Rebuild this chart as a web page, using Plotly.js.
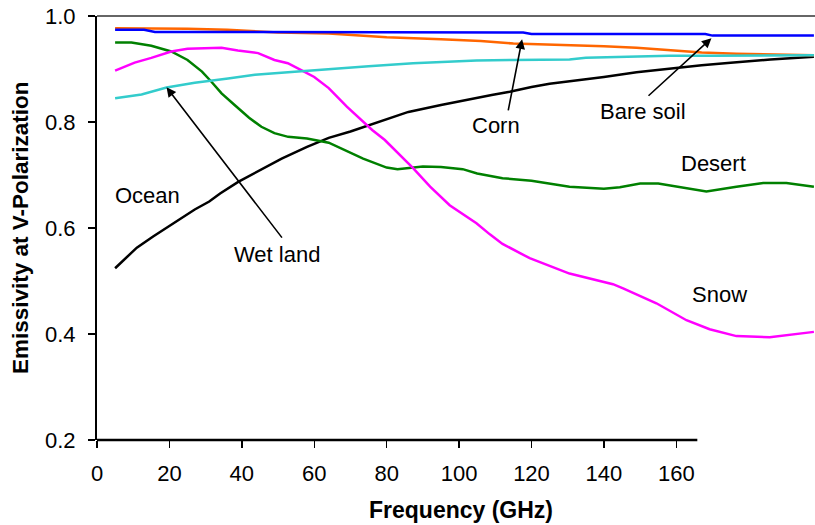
<!DOCTYPE html>
<html>
<head>
<meta charset="utf-8">
<script src="https://cdn.plot.ly/plotly-3.0.1.min.js"></script>
<style>html,body{margin:0;padding:0;background:#fff;}#chart{width:815px;height:525px;}</style>
</head>
<body>
<div id="chart"></div>
<script>
// ---- Data (frequency in GHz, emissivity) ----
const oceanFreq = [5, 11, 15.5, 20, 24, 27, 31, 34, 39, 45, 51, 58, 64, 70, 75, 81, 86, 95, 100, 105, 109, 114, 120, 125, 131, 140, 149, 154, 160, 167, 175, 186, 198];
const oceanEmis = [0.524, 0.563, 0.584, 0.604, 0.623, 0.635, 0.650, 0.665, 0.687, 0.709, 0.731, 0.753, 0.770, 0.782, 0.794, 0.807, 0.819, 0.832, 0.839, 0.845, 0.851, 0.857, 0.866, 0.872, 0.877, 0.885, 0.894, 0.898, 0.902, 0.907, 0.912, 0.918, 0.923];

const desertFreq = [5, 9.5, 15, 20.5, 25, 29, 31.6, 34.4, 38, 42, 45.4, 49, 52.8, 58, 64, 68, 73.5, 80, 83, 90, 95, 101, 105, 112, 120, 130.5, 140, 144.4, 150, 155, 161, 168.3, 176.6, 184, 190.4, 195, 198];
const desertEmis = [0.950, 0.950, 0.944, 0.933, 0.917, 0.895, 0.876, 0.854, 0.832, 0.808, 0.791, 0.779, 0.772, 0.769, 0.761, 0.748, 0.731, 0.714, 0.711, 0.716, 0.715, 0.711, 0.703, 0.694, 0.689, 0.678, 0.674, 0.677, 0.684, 0.684, 0.677, 0.669, 0.678, 0.685, 0.685, 0.681, 0.678];

const snowFreq = [5, 10.4, 15, 20.5, 25, 30.7, 34.4, 38.9, 44.5, 49, 52.7, 56.4, 60, 64, 69, 76, 79.5, 87.3, 92, 97.4, 99.3, 104.8, 108.5, 112, 119.5, 130.5, 142.5, 145.3, 154.5, 162.8, 169.2, 176.6, 185.8, 193.2, 198];
const snowEmis = [0.897, 0.912, 0.921, 0.933, 0.938, 0.940, 0.940, 0.935, 0.930, 0.917, 0.911, 0.898, 0.885, 0.864, 0.829, 0.785, 0.766, 0.713, 0.678, 0.643, 0.634, 0.609, 0.588, 0.570, 0.543, 0.514, 0.494, 0.486, 0.458, 0.426, 0.409, 0.396, 0.394, 0.400, 0.404];

const wetlandFreq = [5, 12.3, 19.2, 27, 36.2, 43.6, 54.6, 63.8, 75, 87.3, 95, 104.8, 115, 130.5, 135, 144.4, 158, 170, 185, 198];
const wetlandEmis = [0.845, 0.852, 0.865, 0.874, 0.882, 0.889, 0.895, 0.900, 0.905, 0.911, 0.913, 0.916, 0.917, 0.918, 0.921, 0.923, 0.925, 0.925, 0.926, 0.926];

const cornFreq = [5, 20, 25, 36, 50, 64, 80, 95, 106, 115, 121, 130.5, 140, 149, 158, 167, 176.6, 185.8, 192, 198];
const cornEmis = [0.977, 0.977, 0.976, 0.974, 0.969, 0.967, 0.960, 0.956, 0.953, 0.948, 0.947, 0.945, 0.943, 0.940, 0.936, 0.931, 0.929, 0.928, 0.927, 0.926];

const soilFreq = [5, 13, 16, 64, 117.7, 120, 168, 170, 198];
const soilEmis = [0.974, 0.974, 0.970, 0.969, 0.969, 0.966, 0.966, 0.963, 0.963];

const xTicks = [0, 20, 40, 60, 80, 100, 120, 140, 160];
const yTicks = [0.2, 0.4, 0.6, 0.8, 1.0];
const yTickText = ['0.2', '0.4', '0.6', '0.8', '1.0'];

const FONT = 'Liberation Sans, Arial, sans-serif';

function series(x, y, color) {
  return {x: x, y: y, type: 'scatter', mode: 'lines', showlegend: false,
          line: {color: color, width: 2.5, shape: 'linear'}, hoverinfo: 'skip'};
}

const traces = [
  series(oceanFreq, oceanEmis, '#000000'),
  series(desertFreq, desertEmis, '#008000'),
  series(snowFreq, snowEmis, '#FF00FF'),
  series(cornFreq, cornEmis, '#FF6600'),
  series(wetlandFreq, wetlandEmis, '#33CCCC'),
  series(soilFreq, soilEmis, '#0000FF')
];

function label(text, x, y) {
  return {text: text, x: x, y: y, xref: 'x', yref: 'y', showarrow: false,
          xanchor: 'center', yanchor: 'middle', font: {family: FONT, size: 22, color: '#000'}};
}
function arrow(hx, hy, tx, ty) {
  return {text: '', x: hx, y: hy, xref: 'x', yref: 'y', ax: tx, ay: ty, axref: 'x', ayref: 'y',
          showarrow: true, arrowhead: 2, arrowsize: 1.2, arrowwidth: 1.6, arrowcolor: '#000'};
}

const layout = {
  width: 815, height: 525,
  margin: {l: 97, r: 0, t: 16, b: 85, pad: 0},
  paper_bgcolor: '#fff', plot_bgcolor: '#fff',
  font: {family: FONT, size: 22, color: '#000'},
  xaxis: {
    range: [0, 198.3], tickvals: xTicks, ticktext: xTicks.map(String),
    ticks: 'outside', ticklen: 7, tickwidth: 1.5, tickcolor: '#000',
    showline: false, showgrid: false, zeroline: false,
    ticklabelstandoff: 7,
    tickfont: {family: FONT, size: 22, color: '#000'}
  },
  yaxis: {
    range: [0.2, 1.0], tickvals: yTicks, ticktext: yTickText,
    ticks: 'outside', ticklen: 7, tickwidth: 1.5, tickcolor: '#000',
    showline: true, linecolor: '#000', linewidth: 2,
    showgrid: false, zeroline: false,
    ticklabelstandoff: 8,
    tickfont: {family: FONT, size: 22, color: '#000'}
  },
  shapes: [
    {type: 'line', xref: 'x', yref: 'paper', x0: 0, x1: 165.8, y0: 0, y1: 0,
     line: {color: '#000', width: 2.5}},
    {type: 'line', xref: 'paper', yref: 'paper', x0: 0, x1: 1, y0: 1, y1: 1,
     line: {color: '#333', width: 1.5}}
  ],
  annotations: [
    arrow(117.4, 0.956, 113.5, 0.819),
    arrow(169.7, 0.958, 151.9, 0.847),
    arrow(19.2, 0.8655, 51.4, 0.579),
    label('Corn', 110.1, 0.7925),
    label('Bare soil', 150.7, 0.819),
    label('Desert', 170.3, 0.722),
    label('Ocean', 14.0, 0.661),
    label('Wet land', 49.8, 0.550),
    label('Snow', 171.9, 0.475),
    {text: '<b>Frequency (GHz)</b>', xref: 'paper', yref: 'paper', x: 0.5063, y: -0.165,
     xanchor: 'center', yanchor: 'middle', showarrow: false,
     font: {family: FONT, size: 23, color: '#000'}},
    {text: '<b>Emissivity at V-Polarization</b>', xref: 'paper', yref: 'paper', x: -0.1072, y: 0.5,
     xanchor: 'center', yanchor: 'middle', textangle: -90, showarrow: false,
     font: {family: FONT, size: 22.5, color: '#000'}}
  ]
};

Plotly.newPlot('chart', traces, layout, {staticPlot: true, displayModeBar: false});
</script>
</body>
</html>
